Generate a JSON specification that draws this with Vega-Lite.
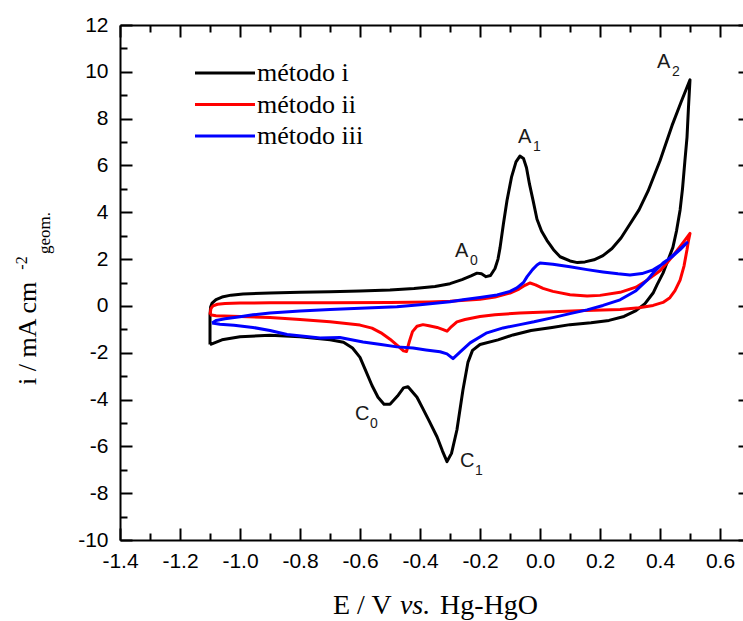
{
  "$schema": "https://vega.github.io/schema/vega-lite/v6.json",
  "width": 630,
  "height": 515,
  "autosize": "none",
  "padding": {"left": 120, "top": 25, "right": -7, "bottom": 81},
  "config": {
    "view": {"stroke": null},
    "axis": {
      "grid": false,
      "domainColor": "black",
      "domainWidth": 2,
      "tickColor": "black",
      "tickWidth": 2,
      "labelColor": "black",
      "labelFont": "Liberation Sans",
      "labelFontSize": 21,
      "labelFlush": false,
      "labelOverlap": false
    }
  },
  "datasets": {
    "cv": [
      {"s": "método i", "k": 1, "E": -1.1, "i": -1.65},
      {"s": "método i", "k": 2, "E": -1.1, "i": -1.0},
      {"s": "método i", "k": 3, "E": -1.1, "i": -0.4},
      {"s": "método i", "k": 4, "E": -1.098, "i": -0.05},
      {"s": "método i", "k": 5, "E": -1.093, "i": 0.12},
      {"s": "método i", "k": 6, "E": -1.08, "i": 0.27},
      {"s": "método i", "k": 7, "E": -1.06, "i": 0.38},
      {"s": "método i", "k": 8, "E": -1.03, "i": 0.46},
      {"s": "método i", "k": 9, "E": -0.99, "i": 0.51},
      {"s": "método i", "k": 10, "E": -0.9, "i": 0.55},
      {"s": "método i", "k": 11, "E": -0.8, "i": 0.58},
      {"s": "método i", "k": 12, "E": -0.7, "i": 0.61},
      {"s": "método i", "k": 13, "E": -0.6, "i": 0.64},
      {"s": "método i", "k": 14, "E": -0.5, "i": 0.68},
      {"s": "método i", "k": 15, "E": -0.42, "i": 0.74},
      {"s": "método i", "k": 16, "E": -0.35, "i": 0.83},
      {"s": "método i", "k": 17, "E": -0.3, "i": 0.95},
      {"s": "método i", "k": 18, "E": -0.26, "i": 1.12},
      {"s": "método i", "k": 19, "E": -0.23, "i": 1.28},
      {"s": "método i", "k": 20, "E": -0.21, "i": 1.4},
      {"s": "método i", "k": 21, "E": -0.195, "i": 1.37},
      {"s": "método i", "k": 22, "E": -0.18, "i": 1.25},
      {"s": "método i", "k": 23, "E": -0.165, "i": 1.3},
      {"s": "método i", "k": 24, "E": -0.15, "i": 1.6},
      {"s": "método i", "k": 25, "E": -0.14, "i": 2.0},
      {"s": "método i", "k": 26, "E": -0.133, "i": 2.5},
      {"s": "método i", "k": 27, "E": -0.122, "i": 3.5},
      {"s": "método i", "k": 28, "E": -0.11, "i": 4.5},
      {"s": "método i", "k": 29, "E": -0.095, "i": 5.5},
      {"s": "método i", "k": 30, "E": -0.08, "i": 6.15},
      {"s": "método i", "k": 31, "E": -0.067, "i": 6.4},
      {"s": "método i", "k": 32, "E": -0.055, "i": 6.3},
      {"s": "método i", "k": 33, "E": -0.045, "i": 5.9},
      {"s": "método i", "k": 34, "E": -0.035, "i": 5.2},
      {"s": "método i", "k": 35, "E": -0.023, "i": 4.5},
      {"s": "método i", "k": 36, "E": -0.01, "i": 3.7},
      {"s": "método i", "k": 37, "E": 0.005, "i": 3.2},
      {"s": "método i", "k": 38, "E": 0.023, "i": 2.8},
      {"s": "método i", "k": 39, "E": 0.045, "i": 2.4},
      {"s": "método i", "k": 40, "E": 0.067, "i": 2.1},
      {"s": "método i", "k": 41, "E": 0.1, "i": 1.92},
      {"s": "método i", "k": 42, "E": 0.125, "i": 1.85},
      {"s": "método i", "k": 43, "E": 0.15, "i": 1.88},
      {"s": "método i", "k": 44, "E": 0.18, "i": 1.97},
      {"s": "método i", "k": 45, "E": 0.21, "i": 2.15},
      {"s": "método i", "k": 46, "E": 0.24, "i": 2.45},
      {"s": "método i", "k": 47, "E": 0.27, "i": 2.9},
      {"s": "método i", "k": 48, "E": 0.3, "i": 3.5},
      {"s": "método i", "k": 49, "E": 0.33, "i": 4.1},
      {"s": "método i", "k": 50, "E": 0.36, "i": 4.9},
      {"s": "método i", "k": 51, "E": 0.4, "i": 6.2},
      {"s": "método i", "k": 52, "E": 0.44, "i": 7.7},
      {"s": "método i", "k": 53, "E": 0.47, "i": 8.7},
      {"s": "método i", "k": 54, "E": 0.5, "i": 9.66},
      {"s": "método i", "k": 55, "E": 0.495, "i": 8.5},
      {"s": "método i", "k": 56, "E": 0.49, "i": 7.2},
      {"s": "método i", "k": 57, "E": 0.483, "i": 6.2},
      {"s": "método i", "k": 58, "E": 0.475, "i": 5.0},
      {"s": "método i", "k": 59, "E": 0.467, "i": 4.1},
      {"s": "método i", "k": 60, "E": 0.455, "i": 3.2},
      {"s": "método i", "k": 61, "E": 0.443, "i": 2.5},
      {"s": "método i", "k": 62, "E": 0.425, "i": 1.9},
      {"s": "método i", "k": 63, "E": 0.41, "i": 1.4},
      {"s": "método i", "k": 64, "E": 0.39, "i": 0.9},
      {"s": "método i", "k": 65, "E": 0.377, "i": 0.55},
      {"s": "método i", "k": 66, "E": 0.35, "i": 0.1},
      {"s": "método i", "k": 67, "E": 0.32, "i": -0.2},
      {"s": "método i", "k": 68, "E": 0.28, "i": -0.45},
      {"s": "método i", "k": 69, "E": 0.23, "i": -0.62},
      {"s": "método i", "k": 70, "E": 0.17, "i": -0.72},
      {"s": "método i", "k": 71, "E": 0.1, "i": -0.8},
      {"s": "método i", "k": 72, "E": 0.04, "i": -0.92},
      {"s": "método i", "k": 73, "E": -0.03, "i": -1.05},
      {"s": "método i", "k": 74, "E": -0.09, "i": -1.24},
      {"s": "método i", "k": 75, "E": -0.14, "i": -1.45},
      {"s": "método i", "k": 76, "E": -0.2, "i": -1.65},
      {"s": "método i", "k": 77, "E": -0.225, "i": -1.9},
      {"s": "método i", "k": 78, "E": -0.24, "i": -2.4},
      {"s": "método i", "k": 79, "E": -0.257, "i": -3.6},
      {"s": "método i", "k": 80, "E": -0.277, "i": -5.3},
      {"s": "método i", "k": 81, "E": -0.295, "i": -6.3},
      {"s": "método i", "k": 82, "E": -0.31, "i": -6.65},
      {"s": "método i", "k": 83, "E": -0.325, "i": -6.2},
      {"s": "método i", "k": 84, "E": -0.343, "i": -5.6},
      {"s": "método i", "k": 85, "E": -0.37, "i": -4.9},
      {"s": "método i", "k": 86, "E": -0.39, "i": -4.4},
      {"s": "método i", "k": 87, "E": -0.41, "i": -3.9},
      {"s": "método i", "k": 88, "E": -0.44, "i": -3.45},
      {"s": "método i", "k": 89, "E": -0.455, "i": -3.5},
      {"s": "método i", "k": 90, "E": -0.475, "i": -3.85},
      {"s": "método i", "k": 91, "E": -0.5, "i": -4.2},
      {"s": "método i", "k": 92, "E": -0.52, "i": -4.2},
      {"s": "método i", "k": 93, "E": -0.54, "i": -3.9},
      {"s": "método i", "k": 94, "E": -0.56, "i": -3.4},
      {"s": "método i", "k": 95, "E": -0.58, "i": -2.8},
      {"s": "método i", "k": 96, "E": -0.6, "i": -2.2},
      {"s": "método i", "k": 97, "E": -0.625, "i": -1.8},
      {"s": "método i", "k": 98, "E": -0.655, "i": -1.55},
      {"s": "método i", "k": 99, "E": -0.7, "i": -1.45},
      {"s": "método i", "k": 100, "E": -0.8, "i": -1.32},
      {"s": "método i", "k": 101, "E": -0.9, "i": -1.25},
      {"s": "método i", "k": 102, "E": -1.0, "i": -1.32},
      {"s": "método i", "k": 103, "E": -1.06, "i": -1.45},
      {"s": "método i", "k": 104, "E": -1.1, "i": -1.65},

      {"s": "método ii", "k": 1, "E": -1.1, "i": -0.38},
      {"s": "método ii", "k": 2, "E": -1.097, "i": -0.12},
      {"s": "método ii", "k": 3, "E": -1.09, "i": 0.0},
      {"s": "método ii", "k": 4, "E": -1.075, "i": 0.07},
      {"s": "método ii", "k": 5, "E": -1.05, "i": 0.1},
      {"s": "método ii", "k": 6, "E": -1.0, "i": 0.12},
      {"s": "método ii", "k": 7, "E": -0.9, "i": 0.13},
      {"s": "método ii", "k": 8, "E": -0.7, "i": 0.14},
      {"s": "método ii", "k": 9, "E": -0.5, "i": 0.15},
      {"s": "método ii", "k": 10, "E": -0.37, "i": 0.17},
      {"s": "método ii", "k": 11, "E": -0.3, "i": 0.2},
      {"s": "método ii", "k": 12, "E": -0.2, "i": 0.28},
      {"s": "método ii", "k": 13, "E": -0.15, "i": 0.38},
      {"s": "método ii", "k": 14, "E": -0.1, "i": 0.55},
      {"s": "método ii", "k": 15, "E": -0.07, "i": 0.72},
      {"s": "método ii", "k": 16, "E": -0.05, "i": 0.88},
      {"s": "método ii", "k": 17, "E": -0.033, "i": 0.98},
      {"s": "método ii", "k": 18, "E": -0.015, "i": 0.9},
      {"s": "método ii", "k": 19, "E": 0.01, "i": 0.75},
      {"s": "método ii", "k": 20, "E": 0.043, "i": 0.62},
      {"s": "método ii", "k": 21, "E": 0.1, "i": 0.48},
      {"s": "método ii", "k": 22, "E": 0.157, "i": 0.42},
      {"s": "método ii", "k": 23, "E": 0.2, "i": 0.45},
      {"s": "método ii", "k": 24, "E": 0.267, "i": 0.58},
      {"s": "método ii", "k": 25, "E": 0.32, "i": 0.8},
      {"s": "método ii", "k": 26, "E": 0.357, "i": 1.1},
      {"s": "método ii", "k": 27, "E": 0.4, "i": 1.5},
      {"s": "método ii", "k": 28, "E": 0.423, "i": 1.83},
      {"s": "método ii", "k": 29, "E": 0.45, "i": 2.25},
      {"s": "método ii", "k": 30, "E": 0.477, "i": 2.7},
      {"s": "método ii", "k": 31, "E": 0.5, "i": 3.1},
      {"s": "método ii", "k": 32, "E": 0.495, "i": 2.8},
      {"s": "método ii", "k": 33, "E": 0.49, "i": 2.4},
      {"s": "método ii", "k": 34, "E": 0.48, "i": 1.7},
      {"s": "método ii", "k": 35, "E": 0.467, "i": 1.1},
      {"s": "método ii", "k": 36, "E": 0.45, "i": 0.65},
      {"s": "método ii", "k": 37, "E": 0.433, "i": 0.35},
      {"s": "método ii", "k": 38, "E": 0.41, "i": 0.15},
      {"s": "método ii", "k": 39, "E": 0.377, "i": 0.02},
      {"s": "método ii", "k": 40, "E": 0.33, "i": -0.08},
      {"s": "método ii", "k": 41, "E": 0.267, "i": -0.15},
      {"s": "método ii", "k": 42, "E": 0.15, "i": -0.2},
      {"s": "método ii", "k": 43, "E": 0.043, "i": -0.25},
      {"s": "método ii", "k": 44, "E": -0.067, "i": -0.3},
      {"s": "método ii", "k": 45, "E": -0.15, "i": -0.38},
      {"s": "método ii", "k": 46, "E": -0.2, "i": -0.45},
      {"s": "método ii", "k": 47, "E": -0.25, "i": -0.58},
      {"s": "método ii", "k": 48, "E": -0.277, "i": -0.68},
      {"s": "método ii", "k": 49, "E": -0.295, "i": -0.88},
      {"s": "método ii", "k": 50, "E": -0.31, "i": -1.08},
      {"s": "método ii", "k": 51, "E": -0.325, "i": -1.0},
      {"s": "método ii", "k": 52, "E": -0.343, "i": -0.92},
      {"s": "método ii", "k": 53, "E": -0.37, "i": -0.85},
      {"s": "método ii", "k": 54, "E": -0.39, "i": -0.8},
      {"s": "método ii", "k": 55, "E": -0.41, "i": -0.87},
      {"s": "método ii", "k": 56, "E": -0.425, "i": -1.1},
      {"s": "método ii", "k": 57, "E": -0.435, "i": -1.5},
      {"s": "método ii", "k": 58, "E": -0.445, "i": -1.95},
      {"s": "método ii", "k": 59, "E": -0.455, "i": -1.92},
      {"s": "método ii", "k": 60, "E": -0.47, "i": -1.75},
      {"s": "método ii", "k": 61, "E": -0.5, "i": -1.42},
      {"s": "método ii", "k": 62, "E": -0.53, "i": -1.15},
      {"s": "método ii", "k": 63, "E": -0.56, "i": -0.95},
      {"s": "método ii", "k": 64, "E": -0.6, "i": -0.82},
      {"s": "método ii", "k": 65, "E": -0.7, "i": -0.68},
      {"s": "método ii", "k": 66, "E": -0.8, "i": -0.58},
      {"s": "método ii", "k": 67, "E": -0.9, "i": -0.5},
      {"s": "método ii", "k": 68, "E": -1.0, "i": -0.45},
      {"s": "método ii", "k": 69, "E": -1.08, "i": -0.42},
      {"s": "método ii", "k": 70, "E": -1.1, "i": -0.38},

      {"s": "método iii", "k": 1, "E": -1.093, "i": -0.73},
      {"s": "método iii", "k": 2, "E": -1.08, "i": -0.62},
      {"s": "método iii", "k": 3, "E": -1.05, "i": -0.55},
      {"s": "método iii", "k": 4, "E": -1.0, "i": -0.46},
      {"s": "método iii", "k": 5, "E": -0.957, "i": -0.38},
      {"s": "método iii", "k": 6, "E": -0.9, "i": -0.3},
      {"s": "método iii", "k": 7, "E": -0.8, "i": -0.22},
      {"s": "método iii", "k": 8, "E": -0.7, "i": -0.15},
      {"s": "método iii", "k": 9, "E": -0.6, "i": -0.1},
      {"s": "método iii", "k": 10, "E": -0.477, "i": -0.04},
      {"s": "método iii", "k": 11, "E": -0.4, "i": 0.05},
      {"s": "método iii", "k": 12, "E": -0.3, "i": 0.18},
      {"s": "método iii", "k": 13, "E": -0.257, "i": 0.26},
      {"s": "método iii", "k": 14, "E": -0.2, "i": 0.36},
      {"s": "método iii", "k": 15, "E": -0.143, "i": 0.47},
      {"s": "método iii", "k": 16, "E": -0.1, "i": 0.62},
      {"s": "método iii", "k": 17, "E": -0.077, "i": 0.77},
      {"s": "método iii", "k": 18, "E": -0.055, "i": 1.0},
      {"s": "método iii", "k": 19, "E": -0.043, "i": 1.25},
      {"s": "método iii", "k": 20, "E": -0.025, "i": 1.55},
      {"s": "método iii", "k": 21, "E": -0.01, "i": 1.75},
      {"s": "método iii", "k": 22, "E": 0.0, "i": 1.83},
      {"s": "método iii", "k": 23, "E": 0.043, "i": 1.78},
      {"s": "método iii", "k": 24, "E": 0.1, "i": 1.67},
      {"s": "método iii", "k": 25, "E": 0.157, "i": 1.55},
      {"s": "método iii", "k": 26, "E": 0.21, "i": 1.45},
      {"s": "método iii", "k": 27, "E": 0.26, "i": 1.37},
      {"s": "método iii", "k": 28, "E": 0.3, "i": 1.32},
      {"s": "método iii", "k": 29, "E": 0.34, "i": 1.38},
      {"s": "método iii", "k": 30, "E": 0.377, "i": 1.54},
      {"s": "método iii", "k": 31, "E": 0.41, "i": 1.8},
      {"s": "método iii", "k": 32, "E": 0.433, "i": 2.05},
      {"s": "método iii", "k": 33, "E": 0.46, "i": 2.35},
      {"s": "método iii", "k": 34, "E": 0.49, "i": 2.7},
      {"s": "método iii", "k": 35, "E": 0.467, "i": 2.4},
      {"s": "método iii", "k": 36, "E": 0.44, "i": 2.1},
      {"s": "método iii", "k": 37, "E": 0.41, "i": 1.83},
      {"s": "método iii", "k": 38, "E": 0.38, "i": 1.45},
      {"s": "método iii", "k": 39, "E": 0.357, "i": 1.1},
      {"s": "método iii", "k": 40, "E": 0.32, "i": 0.65},
      {"s": "método iii", "k": 41, "E": 0.267, "i": 0.26},
      {"s": "método iii", "k": 42, "E": 0.21, "i": 0.02},
      {"s": "método iii", "k": 43, "E": 0.157, "i": -0.17},
      {"s": "método iii", "k": 44, "E": 0.1, "i": -0.33},
      {"s": "método iii", "k": 45, "E": 0.043, "i": -0.5},
      {"s": "método iii", "k": 46, "E": -0.02, "i": -0.68},
      {"s": "método iii", "k": 47, "E": -0.067, "i": -0.8},
      {"s": "método iii", "k": 48, "E": -0.123, "i": -0.94},
      {"s": "método iii", "k": 49, "E": -0.177, "i": -1.15},
      {"s": "método iii", "k": 50, "E": -0.233, "i": -1.58},
      {"s": "método iii", "k": 51, "E": -0.265, "i": -1.95},
      {"s": "método iii", "k": 52, "E": -0.29, "i": -2.25},
      {"s": "método iii", "k": 53, "E": -0.31, "i": -2.05},
      {"s": "método iii", "k": 54, "E": -0.333, "i": -1.96},
      {"s": "método iii", "k": 55, "E": -0.38, "i": -1.88},
      {"s": "método iii", "k": 56, "E": -0.423, "i": -1.8},
      {"s": "método iii", "k": 57, "E": -0.477, "i": -1.75},
      {"s": "método iii", "k": 58, "E": -0.53, "i": -1.65},
      {"s": "método iii", "k": 59, "E": -0.59, "i": -1.54},
      {"s": "método iii", "k": 60, "E": -0.667, "i": -1.35},
      {"s": "método iii", "k": 61, "E": -0.733, "i": -1.37},
      {"s": "método iii", "k": 62, "E": -0.843, "i": -1.22},
      {"s": "método iii", "k": 63, "E": -0.9, "i": -1.05},
      {"s": "método iii", "k": 64, "E": -0.957, "i": -0.92},
      {"s": "método iii", "k": 65, "E": -1.02, "i": -0.83},
      {"s": "método iii", "k": 66, "E": -1.067, "i": -0.78},
      {"s": "método iii", "k": 67, "E": -1.093, "i": -0.73}
    ],
    "peaks": [
      {"E": -0.283, "i": 2.09, "label": "A", "sub": "0"},
      {"E": -0.073, "i": 6.97, "label": "A", "sub": "1"},
      {"E": 0.39, "i": 10.17, "label": "A", "sub": "2"},
      {"E": -0.617, "i": -4.87, "label": "C", "sub": "0"},
      {"E": -0.267, "i": -6.88, "label": "C", "sub": "1"}
    ],
    "one": [{}]
  },
  "resolve": {"axis": {"x": "independent", "y": "independent"}},
  "layer": [
    {
      "data": {"name": "cv"},
      "mark": {"type": "line", "strokeWidth": 3, "strokeJoin": "round"},
      "encoding": {
        "x": {
          "field": "E", "type": "quantitative",
          "scale": {"domain": [-1.4, 0.7], "nice": false, "zero": false},
          "axis": {"orient": "bottom", "title": null, "ticks": false, "labelPadding": 10,
                   "values": [-1.4, -1.2, -1.0, -0.8, -0.6, -0.4, -0.2, 0.0, 0.2, 0.4, 0.6],
                   "format": ".1f", "labelExpr": "replace(datum.label, '\u2212', '-')"}
        },
        "y": {
          "field": "i", "type": "quantitative",
          "scale": {"domain": [-10, 12], "nice": false, "zero": false},
          "axis": {"orient": "left", "title": null, "ticks": false, "labelPadding": 12,
                   "values": [-10, -8, -6, -4, -2, 0, 2, 4, 6, 8, 10, 12],
                   "labelExpr": "replace(datum.label, '\u2212', '-')"}
        },
        "color": {
          "field": "s", "type": "nominal",
          "scale": {"domain": ["método i", "método ii", "método iii"], "range": ["#000000", "#ff0000", "#0000ff"]},
          "legend": {
            "title": null, "orient": "none", "legendX": 92, "legendY": 35,
            "symbolType": "M-3,0H3", "symbolSize": 400, "symbolStrokeWidth": 3,
            "labelFont": "Liberation Serif", "labelFontSize": 26, "labelColor": "black",
            "labelOffset": 19, "rowPadding": 5.5, "padding": 0, "labelLimit": 400
          }
        },
        "order": {"field": "k", "type": "quantitative"}
      }
    },
    {
      "data": {"name": "peaks"},
      "mark": {"type": "text", "font": "Liberation Sans", "fontSize": 20, "align": "left", "baseline": "alphabetic", "color": "#1a1a1a"},
      "encoding": {
        "x": {"field": "E", "type": "quantitative",
              "axis": {"orient": "bottom", "title": null, "labels": false, "domain": false, "tickSize": -12,
                       "values": [-1.4, -1.2, -1.0, -0.8, -0.6, -0.4, -0.2, 0.0, 0.2, 0.4, 0.6]}},
        "y": {"field": "i", "type": "quantitative",
              "axis": {"orient": "left", "title": null, "labels": false, "domain": false, "tickSize": -12,
                       "values": [-10, -8, -6, -4, -2, 0, 2, 4, 6, 8, 10, 12]}},
        "text": {"field": "label"}
      }
    },
    {
      "data": {"name": "peaks"},
      "mark": {"type": "text", "font": "Liberation Sans", "fontSize": 14, "align": "left", "baseline": "alphabetic", "dx": 15, "dy": 8, "color": "#1a1a1a"},
      "encoding": {
        "x": {"field": "E", "type": "quantitative",
              "axis": {"orient": "bottom", "title": null, "labels": false, "domain": false, "tickSize": -7,
                       "values": [-1.3, -1.1, -0.9, -0.7, -0.5, -0.3, -0.1, 0.1, 0.3, 0.5]}},
        "y": {"field": "i", "type": "quantitative",
              "axis": {"orient": "left", "title": null, "labels": false, "domain": false, "tickSize": -7,
                       "values": [-9, -7, -5, -3, -1, 1, 3, 5, 7, 9, 11]}},
        "text": {"field": "sub"}
      }
    },
    {
      "data": {"name": "one"},
      "mark": {"type": "text", "font": "Liberation Serif", "fontSize": 26, "angle": 270, "align": "left", "baseline": "alphabetic", "color": "black"},
      "encoding": {
        "x": {"datum": -1.68, "type": "quantitative",
              "axis": {"orient": "top", "title": null, "labels": false, "tickSize": -12,
                       "values": [-1.4, -1.2, -1.0, -0.8, -0.6, -0.4, -0.2, 0.0, 0.2, 0.4, 0.6]}},
        "y": {"datum": -3.38, "type": "quantitative",
              "axis": {"orient": "right", "title": null, "labels": false, "tickSize": -12,
                       "values": [-10, -8, -6, -4, -2, 0, 2, 4, 6, 8, 10, 12]}},
        "text": {"value": "i / mA cm"}
      }
    },
    {
      "data": {"name": "one"},
      "mark": {"type": "text", "font": "Liberation Serif", "fontSize": 16, "angle": 270, "align": "left", "baseline": "alphabetic", "color": "black"},
      "encoding": {
        "x": {"datum": -1.71, "type": "quantitative",
              "axis": {"orient": "top", "title": null, "labels": false, "domain": false, "tickSize": -7,
                       "values": [-1.3, -1.1, -0.9, -0.7, -0.5, -0.3, -0.1, 0.1, 0.3, 0.5]}},
        "y": {"datum": 1.55, "type": "quantitative",
              "axis": {"orient": "right", "title": null, "labels": false, "domain": false, "tickSize": -7,
                       "values": [-9, -7, -5, -3, -1, 1, 3, 5, 7, 9, 11]}},
        "text": {"value": "-2"}
      }
    },
    {
      "data": {"name": "one"},
      "mark": {"type": "text", "font": "Liberation Serif", "fontSize": 17, "angle": 270, "align": "left", "baseline": "alphabetic", "color": "black"},
      "encoding": {
        "x": {"datum": -1.633, "type": "quantitative", "axis": null},
        "y": {"datum": 2.22, "type": "quantitative", "axis": null},
        "text": {"value": "geom."}
      }
    },
    {
      "data": {"name": "one"},
      "mark": {"type": "text", "font": "Liberation Serif", "fontSize": 28, "align": "left", "baseline": "alphabetic", "color": "black"},
      "encoding": {
        "x": {"datum": -0.69, "type": "quantitative", "axis": null},
        "y": {"datum": -13.16, "type": "quantitative", "axis": null},
        "text": {"value": "E / V"}
      }
    },
    {
      "data": {"name": "one"},
      "mark": {"type": "text", "font": "Liberation Serif", "fontSize": 28, "fontStyle": "italic", "align": "left", "baseline": "alphabetic", "color": "black"},
      "encoding": {
        "x": {"datum": -0.467, "type": "quantitative", "axis": null},
        "y": {"datum": -13.16, "type": "quantitative", "axis": null},
        "text": {"value": "vs."}
      }
    },
    {
      "data": {"name": "one"},
      "mark": {"type": "text", "font": "Liberation Serif", "fontSize": 28, "align": "left", "baseline": "alphabetic", "color": "black"},
      "encoding": {
        "x": {"datum": -0.333, "type": "quantitative", "axis": null},
        "y": {"datum": -13.16, "type": "quantitative", "axis": null},
        "text": {"value": "Hg-HgO"}
      }
    }
  ]
}
